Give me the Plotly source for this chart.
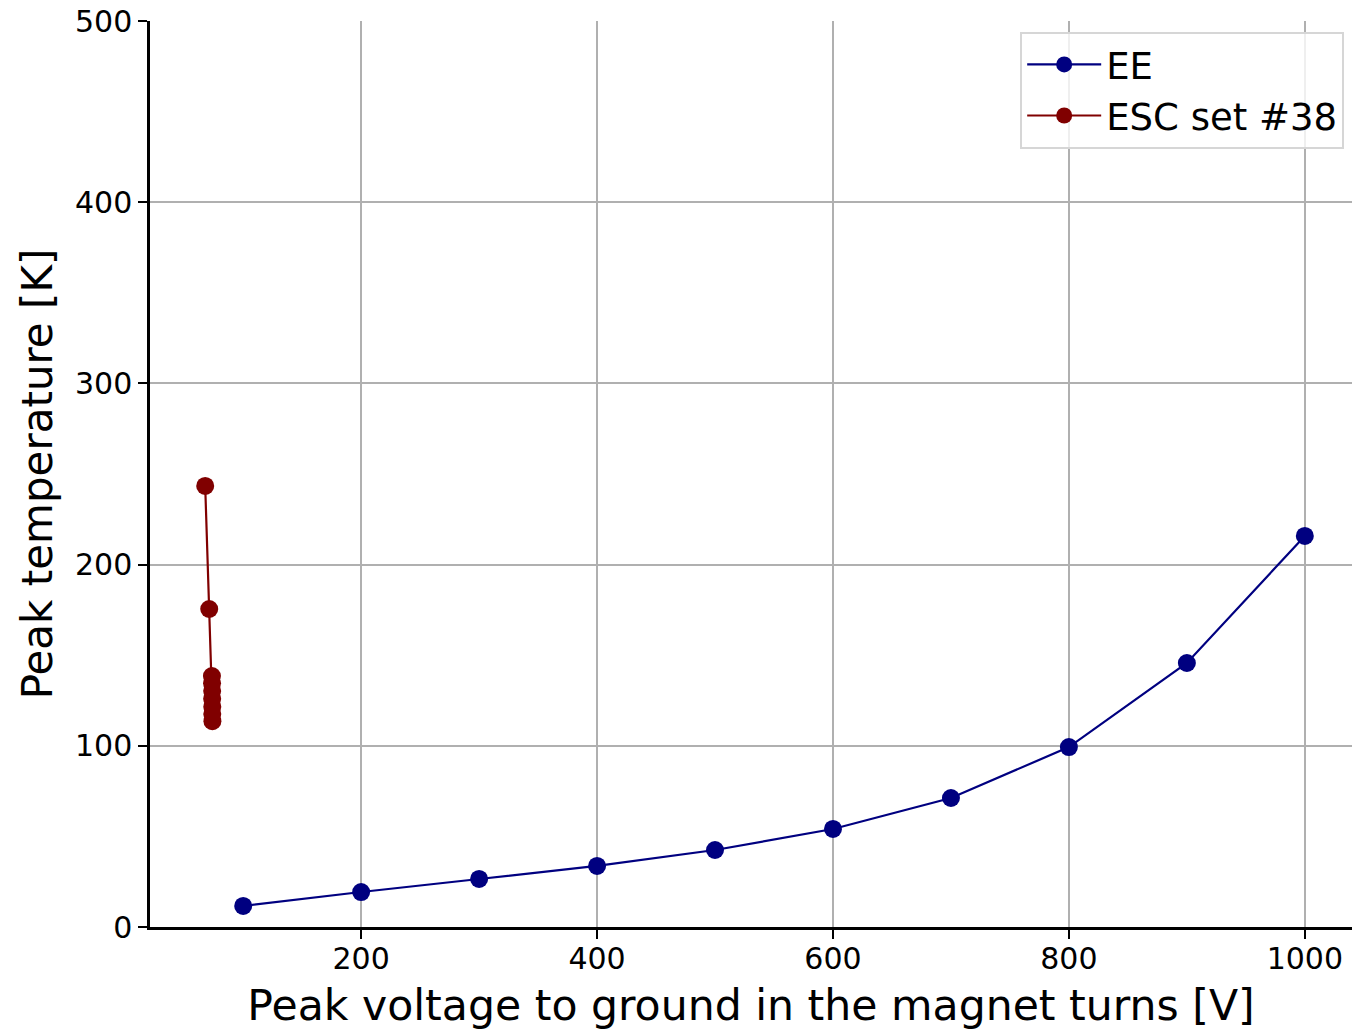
import plotly.graph_objects as go

# Energy extraction (EE) sweep
ee_voltage = [100, 200, 300, 400, 500, 600, 700, 800, 900, 1000]
ee_temperature = [11.6, 19.3, 26.5, 33.7, 42.5, 54.1, 71.2, 99.3, 145.7, 215.8]

# ESC set #38
esc_voltage = [67.8, 71.2, 73.5, 73.6, 73.7, 73.7, 73.8, 73.8, 73.9]
esc_temperature = [243.4, 175.5, 138.5, 134.5, 130.3, 126.0, 121.6, 117.6, 113.6]

x_ticks = [200, 400, 600, 800, 1000]
y_ticks = [0, 100, 200, 300, 400, 500]

fig = go.Figure()
fig.add_trace(go.Scatter(
    x=ee_voltage, y=ee_temperature, mode="lines+markers", name="EE",
    line=dict(color="#000080", width=2.2),
    marker=dict(color="#000080", size=18),
))
fig.add_trace(go.Scatter(
    x=esc_voltage, y=esc_temperature, mode="lines+markers", name="ESC set #38",
    line=dict(color="#800000", width=2.2),
    marker=dict(color="#800000", size=18),
))

font_family = "DejaVu Sans"
fig.update_layout(
    width=1353, height=1030,
    margin=dict(l=150, r=1, t=21, b=103),
    paper_bgcolor="white", plot_bgcolor="white",
    font=dict(family=font_family, color="black"),
    showlegend=True,
    legend=dict(
        x=0.9935, y=0.988, xanchor="right", yanchor="top",
        bgcolor="rgba(255,255,255,0.8)", bordercolor="#d6d6d6", borderwidth=2,
        font=dict(size=37, family=font_family),
        itemwidth=74, tracegroupgap=0,
    ),
    xaxis=dict(
        range=[21, 1040], tickvals=x_ticks, ticktext=[str(v) for v in x_ticks],
        showgrid=True, gridcolor="#b0b0b0", gridwidth=2,
        showline=True, linecolor="black", linewidth=2.5,
        ticks="outside", ticklen=9, tickwidth=2, tickcolor="black",
        tickfont=dict(size=30), zeroline=False, automargin=False,
        ticklabelstandoff=-6,
        title=dict(text="Peak voltage to ground in the magnet turns [V]",
                   font=dict(size=42.6), standoff=16),
    ),
    yaxis=dict(
        range=[0, 500], tickvals=y_ticks, ticktext=[str(v) for v in y_ticks],
        showgrid=True, gridcolor="#b0b0b0", gridwidth=2,
        showline=True, linecolor="black", linewidth=2.5,
        ticks="outside", ticklen=9, tickwidth=2, tickcolor="black",
        tickfont=dict(size=30), zeroline=False, automargin=False,
        title=dict(text="Peak temperature [K]", font=dict(size=42), standoff=10),
    ),
)

fig.write_html("out.html")
